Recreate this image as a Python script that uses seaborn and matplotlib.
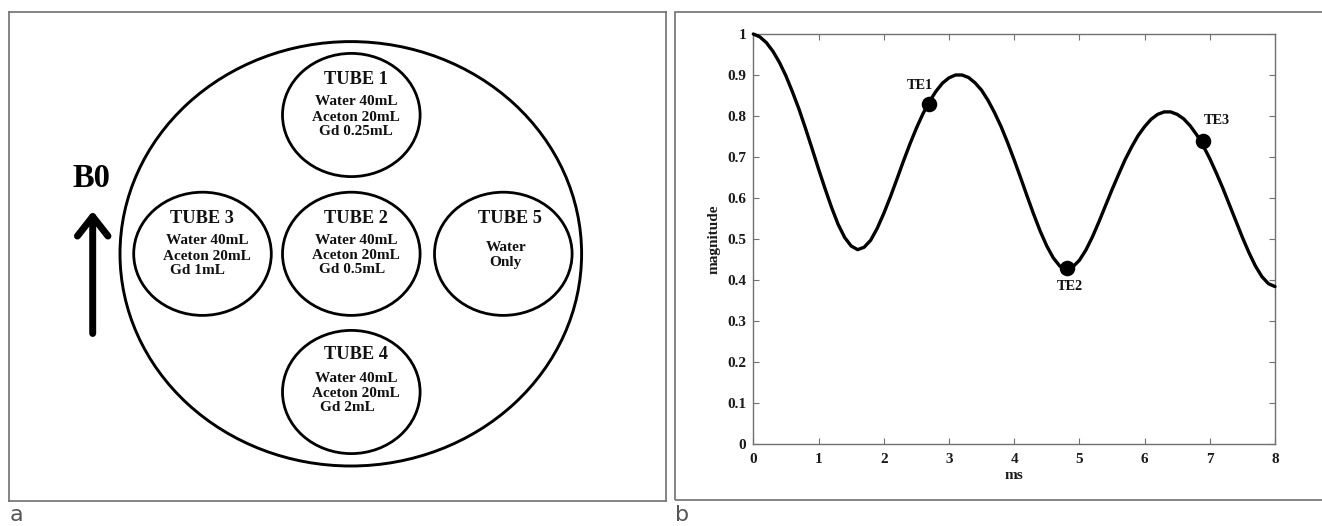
import numpy as np
import pandas as pd
import seaborn as sns
import matplotlib
matplotlib.use("Agg")
import matplotlib.pyplot as plt
from matplotlib.patches import Ellipse, Rectangle

# ---------------- data ----------------
# magnitude curve (every 0.1 ms)
time_ms = [round(0.1 * i, 1) for i in range(81)]
magnitude = [
    1.000, 0.993, 0.979, 0.958, 0.931, 0.898, 0.859, 0.817, 0.770, 0.721,
    0.671, 0.623, 0.577, 0.536, 0.504, 0.483, 0.474, 0.480, 0.497, 0.526,
    0.562, 0.602, 0.645, 0.689, 0.731, 0.770, 0.805, 0.835, 0.860, 0.880,
    0.893, 0.900, 0.900, 0.894, 0.881, 0.863, 0.838, 0.808, 0.774, 0.735,
    0.693, 0.649, 0.604, 0.560, 0.519, 0.483, 0.454, 0.434, 0.427, 0.432,
    0.448, 0.473, 0.505, 0.542, 0.581, 0.620, 0.657, 0.693, 0.724, 0.752,
    0.774, 0.792, 0.804, 0.810, 0.810, 0.804, 0.793, 0.776, 0.754, 0.727,
    0.696, 0.661, 0.624, 0.584, 0.544, 0.504, 0.467, 0.434, 0.408, 0.391,
    0.384,
]
te_labels = ["TE1", "TE2", "TE3"]
te_time = [2.70, 4.81, 6.90]
te_mag = [0.829, 0.430, 0.740]

x_ticks = [0, 1, 2, 3, 4, 5, 6, 7, 8]
y_ticks = [0, 0.1, 0.2, 0.3, 0.4, 0.5, 0.6, 0.7, 0.8, 0.9, 1]
y_ticklabels = ["0", "0.1", "0.2", "0.3", "0.4", "0.5", "0.6", "0.7", "0.8", "0.9", "1"]

tube_names = ["TUBE 1", "TUBE 2", "TUBE 3", "TUBE 4", "TUBE 5"]
tube_contents = [
    ["Water 40mL", "Aceton 20mL", "Gd 0.25mL"],
    ["Water 40mL", "Aceton 20mL", "Gd 0.5mL"],
    ["Water 40mL", "Aceton 20mL", "Gd 1mL"],
    ["Water 40mL", "Aceton 20mL", "Gd 2mL"],
    ["Water", "Only"],
]

# ---------------- layout (pixels) ----------------
W, H = 1322, 526
sns.set_style("white")
plt.rcParams["font.family"] = ["Liberation Serif", "DejaVu Serif"]

fig = plt.figure(figsize=(W / 100, H / 100), dpi=100)

def fx(px):
    return px / W

def fy(py):
    return 1 - py / H

frame_col = "#707070"

# ---- left panel (schematic) ----
L0, R0, T0, B0 = 9, 665.7, 12, 500.7
axl = fig.add_axes([fx(L0), fy(B0), fx(R0) - fx(L0), fy(T0) - fy(B0)])
axl.set_xlim(L0, R0)
axl.set_ylim(B0, T0)
axl.set_xticks([])
axl.set_yticks([])
for s in axl.spines.values():
    s.set_color(frame_col)
    s.set_linewidth(1.2)

axl.add_patch(Ellipse((350.8, 253.8), 2 * 230.8, 2 * 212.2, fill=False, ec="black", lw=2.1))

tube_centers = [(351.3, 115.0), (351.3, 253.8), (202.5, 253.8), (351.3, 392.0), (503.3, 253.8)]
tube_title_pos = [(355.8, 79.5), (356.0, 218.8), (202.0, 218.8), (356.0, 354.5), (510.0, 218.8)]
tube_line_pos = [
    [(355.8, 101.5), (355.8, 117.0), (356.3, 131.5)],
    [(355.8, 240.3), (355.8, 255.5), (352.0, 269.5)],
    [(207.0, 240.3), (206.7, 256.0), (197.5, 270.3)],
    [(355.8, 378.3), (355.8, 393.3), (347.0, 407.7)],
    [(506.3, 247.7), (505.5, 262.0)],
]
for (cx, cy), name, lines, tpos, lpos in zip(tube_centers, tube_names, tube_contents,
                                              tube_title_pos, tube_line_pos):
    axl.add_patch(Ellipse((cx, cy), 2 * 68.8, 2 * 61.6, fill=False, ec="black", lw=2.0))
    axl.text(tpos[0], tpos[1], name, ha="center", va="center", fontsize=13.2,
             fontweight="bold", color="#111111")
    for (lx, ly), line in zip(lpos, lines):
        axl.text(lx, ly, line, ha="center", va="center", fontsize=11,
                 fontweight="bold", color="#111111")

axl.text(91.7, 178.5, "B0", ha="center", va="center", fontsize=23.5,
         fontweight="bold", color="black")
axl.annotate("", xy=(92.7, 211), xytext=(92.7, 333.5),
             arrowprops=dict(arrowstyle="->,head_length=0.7,head_width=0.55",
                             lw=5, color="black", shrinkA=0, shrinkB=0,
                             mutation_scale=20))

# ---- right panel frame (runs off the right edge) ----
fig.add_artist(Rectangle((fx(675), fy(500.3)), fx(700), fy(12) - fy(500.3),
                         transform=fig.transFigure, fill=False, ec=frame_col,
                         lw=1.2, clip_on=False))

# ---- right panel plot ----
AL, AR, AT, AB = 753.3, 1275.0, 34.0, 444.0
axr = fig.add_axes([fx(AL), fy(AB), fx(AR) - fx(AL), fy(AT) - fy(AB)])
df = pd.DataFrame({"ms": time_ms, "magnitude": magnitude})
sns.lineplot(data=df, x="ms", y="magnitude", ax=axr, color="black", lw=2.4,
             clip_on=False, zorder=3)
te_df = pd.DataFrame({"ms": te_time, "magnitude": te_mag, "label": te_labels})
sns.scatterplot(data=te_df, x="ms", y="magnitude", ax=axr, color="black", s=125,
                edgecolor="black", linewidth=0, zorder=4, clip_on=False)

te_offsets = [(-7, 13.5), (2, -13.7), (9.6, 14.8)]
for lab, t, m, off in zip(te_labels, te_time, te_mag, te_offsets):
    axr.annotate(lab, xy=(t, m), xytext=off, textcoords="offset points",
                 ha="center", va="center", fontsize=10.3, fontweight="bold",
                 color="#111111")

axr.set_xlim(0, 8)
axr.set_ylim(0, 1)
axr.set_xticks(x_ticks)
axr.set_xticklabels([str(v) for v in x_ticks])
axr.set_yticks(y_ticks)
axr.set_yticklabels(y_ticklabels)
axr.tick_params(axis="both", which="both", direction="in", length=4, width=0.8,
                color=frame_col, top=True, right=True, bottom=True, left=True,
                labelsize=11, labelcolor="#1a1a1a")
axr.tick_params(axis="x", pad=6.5)
axr.tick_params(axis="y", pad=5)
for lab in axr.get_xticklabels() + axr.get_yticklabels():
    lab.set_fontweight("bold")
for s in axr.spines.values():
    s.set_color(frame_col)
    s.set_linewidth(1.0)
axr.set_xlabel("ms", fontsize=11, fontweight="bold", color="#1a1a1a", labelpad=2)
axr.set_ylabel("magnitude", fontsize=11, fontweight="bold", color="#1a1a1a", labelpad=5)

# ---- panel letters ----
fig.text(fx(9.5), fy(505), "a", ha="left", va="top", fontsize=16,
         family="DejaVu Sans", color="#555555")
fig.text(fx(675), fy(505), "b", ha="left", va="top", fontsize=16,
         family="DejaVu Sans", color="#555555")

fig.savefig("out.png", dpi=100, facecolor="white")
